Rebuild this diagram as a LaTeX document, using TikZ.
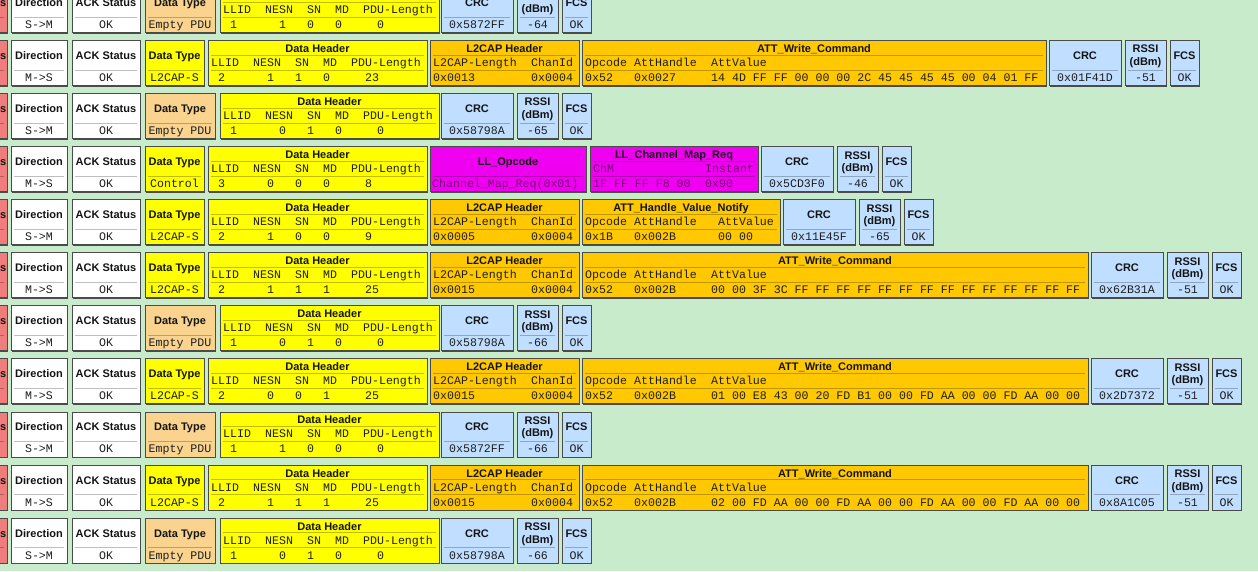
\documentclass[tikz,border=0pt]{standalone}
\usepackage{fontspec}
\newfontfamily\lsans{Liberation Sans}
\newfontfamily\lmono{Liberation Mono}
\definecolor{bg}{RGB}{199,235,203}
\definecolor{cred}{RGB}{240,125,125}
\definecolor{cyellow}{RGB}{255,255,0}
\definecolor{ctan}{RGB}{250,212,142}
\definecolor{corange}{RGB}{255,200,0}
\definecolor{cmag}{RGB}{240,0,240}
\definecolor{cblue}{RGB}{192,222,255}
\definecolor{boxline}{RGB}{75,75,75}
\definecolor{cpurp}{RGB}{120,0,120}
\definecolor{tcol}{RGB}{20,20,20}
\definecolor{mcol}{RGB}{30,30,30}
\newcommand\tfont{\lsans\bfseries\fontsize{11}{12}\selectfont}
\newcommand\mfont{\lmono\fontsize{11.6}{13}\selectfont}
\newcounter{tn}
\tikzset{
  cell/.style={draw=boxline, line width=0.7pt, inner sep=0pt, outer sep=0pt, anchor=north west},
  dropsh/.style={fill=boxline},
  ttl/.style={font=\tfont, text=tcol, inner sep=0pt, anchor=base},
  mono/.style={font=\mfont, text=mcol, inner sep=0pt, anchor=base west},
  monoc/.style={mono, anchor=base},
  sepl/.style={draw=#1!75!black, line width=0.5pt},
}
% box: name, x1, x2, top, fill
\newcommand\cellbox[5]{%
  \fill[dropsh] ({(#2)+1.3},{(#4)+1.3}) rectangle ({(#3)+1.3},{(#4)+46.3});
  \node[cell, fill=#5, minimum width={((#3)-(#2))*1pt}, minimum height=45pt] (#1) at ({#2},{#4}) {};
}
% single-level cell: name, x1, x2, top, fill, title, value
\newcommand\single[7]{%
  \cellbox{#1}{#2}{#3}{#4}{#5}
  \node[ttl] (#1t) at ({((#2)+(#3))/2},{(#4)+19}) {#6};
  \draw[sepl=#5] ({(#2)+3},{(#4)+29.5}) -- ({(#3)-3},{(#4)+29.5});
  \node[monoc] (#1v) at ({((#2)+(#3))/2},{(#4)+41}) {#7};
}
% two-level cell: name, x1, x2, top, fill, title
\newcommand\double[6]{%
  \cellbox{#1}{#2}{#3}{#4}{#5}
  \node[ttl] (#1t) at ({((#2)+(#3))/2},{(#4)+12}) {#6};
  \draw[sepl=#5] ({(#2)+3},{(#4)+14.5}) -- ({(#3)-3},{(#4)+14.5});
  \draw[sepl=#5] ({(#2)+3},{(#4)+29.5}) -- ({(#3)-3},{(#4)+29.5});
}
% field label / value: [style] box-left, column, top, text
\newcommand\lab[5][]{\stepcounter{tn}\node[mono,#1] (tx\arabic{tn}) at ({(#2)+3+7*(#3)},{(#4)+26}) {#5};}
\newcommand\val[5][]{\stepcounter{tn}\node[mono,#1] (tx\arabic{tn}) at ({(#2)+3+7*(#3)},{(#4)+41}) {#5};}
% leading cells: id, top, direction, data type, data type fill, data type right edge
\newcommand\lead[6]{%
  \cellbox{x#1}{-30}{7}{#2}{cred}
  \node[ttl, anchor=base east] (x#1t) at (6.5,{(#2)+19}) {s};
  \draw[sepl=cred] (-30,{(#2)+29.5}) -- (4,{(#2)+29.5});
  \single{d#1}{11}{67}{#2}{white}{Direction}{#3}
  \single{a#1}{72}{140}{#2}{white}{ACK Status}{OK}
  \single{t#1}{145}{#6}{#2}{#5}{Data Type}{#4}
}
% data header: id, top, x1, llid, nesn, sn, md, len
\newcommand\dhdr[8]{%
  \double{h#1}{#3}{(#3)+219}{#2}{cyellow}{Data Header}
  \lab{#3}{0}{#2}{LLID}\lab{#3}{6}{#2}{NESN}\lab{#3}{12}{#2}{SN}\lab{#3}{16}{#2}{MD}\lab{#3}{20}{#2}{PDU-Length}
  \val{#3}{1}{#2}{#4}\val{#3}{8}{#2}{#5}\val{#3}{12}{#2}{#6}\val{#3}{16}{#2}{#7}\val{#3}{22}{#2}{#8}
}
% L2CAP header: id, top, length
\newcommand\ltcap[3]{%
  \double{l#1}{430}{579}{#2}{corange}{L2CAP Header}
  \lab{430}{0}{#2}{L2CAP-Length}\lab{430}{14}{#2}{ChanId}
  \val{430}{0}{#2}{#3}\val{430}{14}{#2}{0x0004}
}
% ATT: id, top, x2, title, opcode, handle, value column, bytes
\newcommand\att[8]{%
  \double{w#1}{582}{#3}{#2}{corange}{#4}
  \lab{582}{0}{#2}{Opcode}\lab{582}{7}{#2}{AttHandle}\lab{582}{#7}{#2}{AttValue}
  \val{582}{0}{#2}{#5}\val{582}{7}{#2}{#6}\val{582}{#7}{#2}{#8}
}
% CRC / RSSI / FCS: id, x, top, crc, rssi
\newcommand\tail[5]{%
  \single{c#1}{#2}{(#2)+72}{#3}{cblue}{CRC}{#4}
  \cellbox{r#1}{(#2)+76}{(#2)+117}{#3}{cblue}
  \node[ttl] (r#1a) at ({(#2)+96.5},{(#3)+12.5}) {RSSI};
  \node[ttl] (r#1b) at ({(#2)+96.5},{(#3)+25}) {(dBm)};
  \draw[sepl=cblue] ({(#2)+79},{(#3)+29.5}) -- ({(#2)+114},{(#3)+29.5});
  \node[monoc] (r#1v) at ({(#2)+96.5},{(#3)+41}) {#5};
  \single{f#1}{(#2)+121}{(#2)+150}{#3}{cblue}{FCS}{OK}
}
% empty PDU row: id, top, nesn, sn, crc, rssi
\newcommand\rowA[6]{%
  \lead{#1}{#2}{S->M}{Empty PDU}{ctan}{215}
  \dhdr{#1}{#2}{220}{1}{#3}{#4}{0}{0}
  \tail{#1}{441}{#2}{#5}{#6}
}
\begin{document}
\begin{tikzpicture}[x=1pt,y=-1pt]
\useasboundingbox (0,0) rectangle (1258,571);
\clip (0,0) rectangle (1258,571);
\fill[bg] (0,0) rectangle (1258,571);

\rowA{0}{-12.7}{1}{0}{0x5872FF}{-64}

\lead{1}{40.4}{M->S}{L2CAP-S}{cyellow}{204}
\dhdr{1}{40.4}{208}{2}{1}{1}{0}{23}
\ltcap{1}{40.4}{0x0013}
\att{1}{40.4}{1046}{ATT\_Write\_Command}{0x52}{0x0027}{18}{14 4D FF FF 00 00 00 2C 45 45 45 45 00 04 01 FF}
\tail{1}{1049}{40.4}{0x01F41D}{-51}

\rowA{2}{93.4}{0}{1}{0x58798A}{-65}

\lead{3}{146.5}{M->S}{Control}{cyellow}{204}
\dhdr{3}{146.5}{208}{3}{0}{0}{0}{8}
\cellbox{o3}{430}{586}{146.5}{cmag}
\node[ttl] (o3t) at (508,{146.5+19}) {LL\_Opcode};
\draw[sepl=cmag] (433,{146.5+29.5}) -- (583,{146.5+29.5});
\node[mono, text=cpurp] (o3v) at (432,{146.5+41}) {Channel\_Map\_Req(0x01)};
\double{m3}{590}{758}{146.5}{cmag}{LL\_Channel\_Map\_Req}
\lab[text=cpurp]{590}{0}{146.5}{ChM}\lab[text=cpurp]{590}{16}{146.5}{Instant}
\val[text=cpurp]{590}{0}{146.5}{1F FF FF F8 00}\val[text=cpurp]{590}{16}{146.5}{0x90}
\tail{3}{761}{146.5}{0x5CD3F0}{-46}

\lead{4}{199.6}{S->M}{L2CAP-S}{cyellow}{204}
\dhdr{4}{199.6}{208}{2}{1}{0}{0}{9}
\ltcap{4}{199.6}{0x0005}
\att{4}{199.6}{780}{ATT\_Handle\_Value\_Notify}{0x1B}{0x002B}{19}{00 00}
\tail{4}{783}{199.6}{0x11E45F}{-65}

\lead{5}{252.7}{M->S}{L2CAP-S}{cyellow}{204}
\dhdr{5}{252.7}{208}{2}{1}{1}{1}{25}
\ltcap{5}{252.7}{0x0015}
\att{5}{252.7}{1088}{ATT\_Write\_Command}{0x52}{0x002B}{18}{00 00 3F 3C FF FF FF FF FF FF FF FF FF FF FF FF FF FF}
\tail{5}{1091}{252.7}{0x62B31A}{-51}

\rowA{6}{305.7}{0}{1}{0x58798A}{-66}

\lead{7}{358.8}{M->S}{L2CAP-S}{cyellow}{204}
\dhdr{7}{358.8}{208}{2}{0}{0}{1}{25}
\ltcap{7}{358.8}{0x0015}
\att{7}{358.8}{1088}{ATT\_Write\_Command}{0x52}{0x002B}{18}{01 00 E8 43 00 20 FD B1 00 00 FD AA 00 00 FD AA 00 00}
\tail{7}{1091}{358.8}{0x2D7372}{-51}

\rowA{8}{411.9}{1}{0}{0x5872FF}{-66}

\lead{9}{465}{M->S}{L2CAP-S}{cyellow}{204}
\dhdr{9}{465}{208}{2}{1}{1}{1}{25}
\ltcap{9}{465}{0x0015}
\att{9}{465}{1088}{ATT\_Write\_Command}{0x52}{0x002B}{18}{02 00 FD AA 00 00 FD AA 00 00 FD AA 00 00 FD AA 00 00}
\tail{9}{1091}{465}{0x8A1C05}{-51}

\rowA{10}{518}{0}{1}{0x58798A}{-66}
\end{tikzpicture}
\end{document}
